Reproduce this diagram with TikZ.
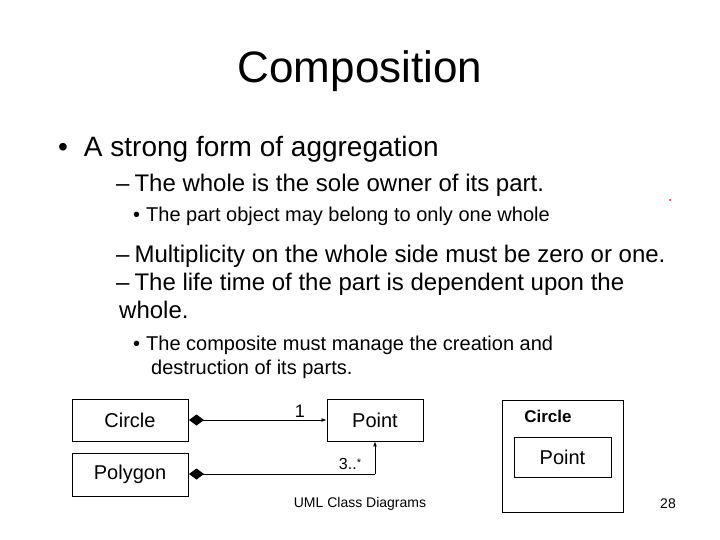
\documentclass[tikz,border=0pt]{standalone}
\usepackage{fontspec}
\setmainfont{Liberation Sans}
\usetikzlibrary{arrows.meta}
\begin{document}
\begin{tikzpicture}[x=1pt,y=-1pt,
  txt/.style={anchor=base west,inner sep=0pt},
  cls/.style={draw,line width=0.8pt,inner sep=0pt,font=\fontsize{20}{22}\selectfont},
  dia/.style={line width=0.9pt,{Diamond[length=15pt,width=11pt]}-},
  both/.style={line width=0.9pt,{Diamond[length=15pt,width=11pt]}-{Latex[length=5pt,width=4pt]}},
  arr/.style={line width=0.9pt,-{Latex[length=5pt,width=4pt]}}]
\useasboundingbox (0,0) rectangle (720,540);
\node[anchor=base,inner sep=0pt,font=\fontsize{44}{48}\selectfont] (t) at (360,83) {Composition};
\node[txt,font=\fontsize{28}{30}\selectfont] (b1) at (58,157) {•\hspace{16pt}A strong form of aggregation};
\node[txt,font=\fontsize{24}{26}\selectfont] (b2) at (116,192) {–\hspace{5pt}The whole is the sole owner of its part.};
\node[txt,font=\fontsize{20}{22}\selectfont] (b3) at (133,222) {•\hspace{6pt}The part object may belong to only one whole};
\node[txt,font=\fontsize{24}{26}\selectfont] (b4) at (116,262) {–\hspace{5pt}Multiplicity on the whole side must be zero or one.};
\node[txt,font=\fontsize{24}{26}\selectfont] (b5) at (116,290) {–\hspace{5pt}The life time of the part is dependent upon the};
\node[txt,font=\fontsize{24}{26}\selectfont] (b6) at (119,318) {whole.};
\node[txt,font=\fontsize{20}{22}\selectfont] (b7) at (133,350) {•\hspace{6pt}The composite must manage the creation and};
\node[txt,font=\fontsize{20}{22}\selectfont] (b8) at (151,374) {destruction of its parts.};
\fill[red] (670,200) circle (1pt);
% classes
\node[cls,minimum width=116pt,minimum height=42pt] (circle) at (130,420) {Circle};
\node[cls,minimum width=116pt,minimum height=43pt] (polygon) at (130,474.5) {Polygon};
\node[cls,minimum width=96pt,minimum height=42pt] (point) at (375,420) {Point};
\coordinate (d1) at (189,420);
\coordinate (d2) at (189,474);
\coordinate (bend) at (375,474);
\draw[both] (d1) -- (point.west);
\draw[dia] (d2) -- (bend);
\draw[arr] (bend) -- (point.south);
\node[inner sep=0pt,font=\fontsize{18}{20}\selectfont] (m1) at (300,411) {1};
\node[inner sep=0pt,font=\fontsize{16}{18}\selectfont] (m2) at (350,464) {3..\raisebox{3pt}{\fontsize{11}{12}\selectfont *}};
% nested
\node[draw,line width=0.8pt,minimum width=121pt,minimum height=112pt,inner sep=0pt] (outer) at (562.5,456) {};
\node[inner sep=0pt,font=\bfseries\fontsize{17}{19}\selectfont] (oc) at (548,416) {Circle};
\node[cls,minimum width=97pt,minimum height=40pt] (ip) at (562.5,457) {Point};
% footer
\node[inner sep=0pt,font=\fontsize{14}{16}\selectfont] (f) at (360,504) {UML Class Diagrams};
\node[inner sep=0pt,font=\fontsize{14}{16}\selectfont] (n) at (668,504) {28};
\end{tikzpicture}
\end{document}
